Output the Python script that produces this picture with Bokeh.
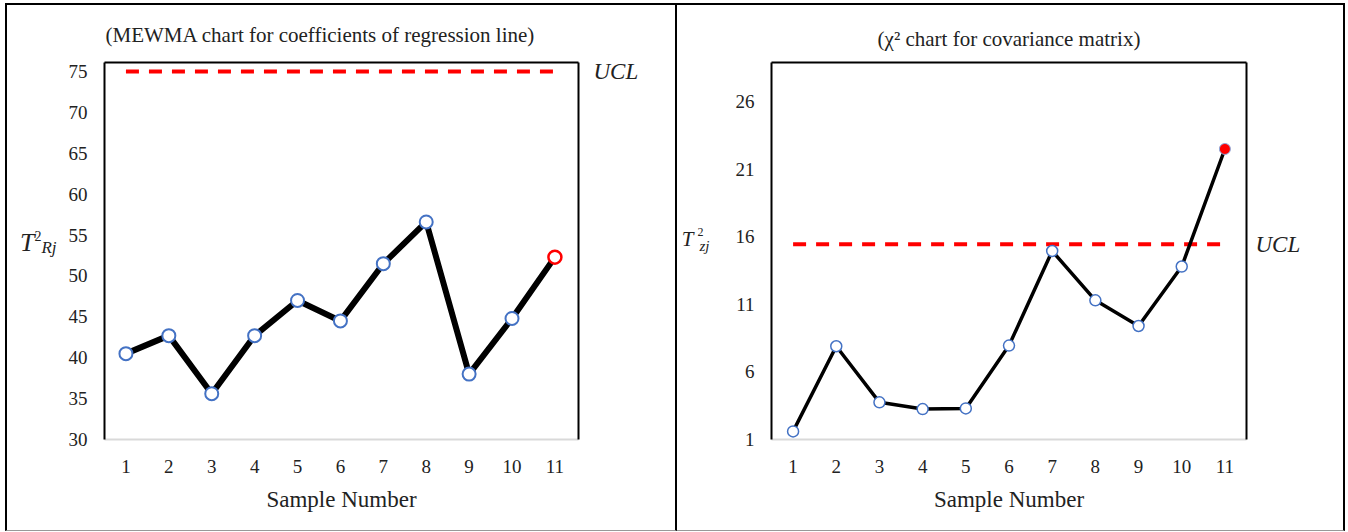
from bokeh.plotting import figure
from bokeh.layouts import row
from bokeh.models import LinearAxis, FixedTicker, Range1d, Title
from bokeh.embed import file_html
from bokeh.resources import INLINE

# ---------------- data ----------------
samples = [1, 2, 3, 4, 5, 6, 7, 8, 9, 10, 11]
mewma_t2 = [40.5, 42.7, 35.6, 42.7, 47.0, 44.5, 51.5, 56.6, 38.0, 44.8, 52.3]
mewma_ucl = 75.0
mewma_yticks = [30, 35, 40, 45, 50, 55, 60, 65, 70, 75]

chi2_t2 = [1.6, 7.9, 3.75, 3.25, 3.3, 7.95, 14.95, 11.3, 9.4, 13.8, 22.5]
chi2_ucl = 15.45
chi2_yticks = [1, 6, 11, 16, 21, 26]

left_title = "(MEWMA  chart for coefficients of regression line)"
right_title = "(\u03c7\u00b2 chart for covariance matrix)"
x_title = "Sample Number"
ucl_text = "UCL"

FONT = "Liberation Serif"
BLUE = "#4472C4"
RED = "#FF0000"
TXT = "#222222"
FRAME_BOTTOM = 439
FRAME_H = 377


def bare_axis(ticks=(), overrides=None, size="0px", style="normal", standoff=0,
              line_color=None, line_width=2):
    a = LinearAxis(ticker=FixedTicker(ticks=list(ticks)))
    a.axis_line_color = line_color
    a.axis_line_width = line_width
    a.major_tick_line_color = None
    a.minor_tick_line_color = None
    a.major_tick_in = 0
    a.major_tick_out = 0
    a.major_label_text_font = FONT
    a.major_label_text_font_size = size
    a.major_label_text_font_style = style
    a.major_label_text_color = TXT
    a.major_label_standoff = standoff
    if overrides:
        a.major_label_overrides = overrides
    return a


def make_panel(width, height, mb_left, mb_right, xr, yr, yticks, vals, ucl,
               line_w, marker_size, marker_lw, last_fill, last_line, last_lw,
               ucl_standoff, border_styles):
    p = figure(width=width, height=height, output_backend="svg",
               toolbar_location=None, x_range=Range1d(*xr), y_range=Range1d(*yr),
               min_border_left=mb_left, min_border_right=mb_right,
               min_border_top=57, min_border_bottom=94,
               x_axis_type=None, y_axis_type=None, styles=border_styles)
    p.outline_line_color = None
    p.xgrid.visible = False
    p.ygrid.visible = False

    # bottom axis
    xa = bare_axis(samples, size="19px", standoff=20, line_color="#D9D9D9")
    xa.axis_label = x_title
    xa.axis_label_text_font = FONT
    xa.axis_label_text_font_style = "normal"
    xa.axis_label_text_font_size = "23px"
    xa.axis_label_text_color = TXT
    xa.axis_label_standoff = 11
    p.add_layout(xa, "below")

    # left axis
    ya = bare_axis(yticks, size="19px", standoff=17, line_color="black")
    p.add_layout(ya, "left")

    # frame top line
    p.add_layout(bare_axis(line_color="black"), "above")
    # frame right line with the UCL label
    p.add_layout(bare_axis([ucl], {ucl: ucl_text}, size="23px", style="italic",
                           standoff=ucl_standoff, line_color="black"), "right")

    # UCL
    p.line([samples[0], samples[-1]], [ucl, ucl], line_color=RED, line_width=4,
           line_dash="13 10")
    # series
    p.line(samples, vals, line_color="black", line_width=line_w, line_join="round")
    p.scatter(samples[:-1], vals[:-1], size=marker_size, marker="circle",
              fill_color="white", line_color=BLUE, line_width=marker_lw)
    p.scatter(samples[-1:], vals[-1:], size=marker_size, marker="circle",
              fill_color=last_fill, line_color=last_line, line_width=last_lw)
    return p


def ydata(yr, py):
    return yr[0] + (FRAME_BOTTOM - py) / FRAME_H * (yr[1] - yr[0])


def add_ylabel(p, yr, parts):
    # parts: (text, page_y_center, size, style, standoff), from the frame outwards
    for text, py, size, style, standoff in parts:
        yv = round(ydata(yr, py), 4)
        p.add_layout(bare_axis([yv], {yv: text}, size=size, style=style,
                               standoff=standoff), "left")


def add_title(p, text, align, offset, standoff):
    t = Title(text=text, align=align, offset=offset, standoff=standoff,
              text_font=FONT, text_font_size="21px", text_font_style="normal",
              text_color=TXT)
    p.add_layout(t, "above")


# ---------- left panel ----------
L_xr, L_yr = (0.5, 11.55), (30, 76.1)
p1 = make_panel(672, 528, 97, 101, L_xr, L_yr, mewma_yticks, mewma_t2, mewma_ucl,
                6, 13, 2, "white", RED, 2.5, 15,
                {"border-top": "2px solid #000", "border-left": "2px solid #000",
                 "border-right": "2px solid #000", "border-bottom": "1px solid #999",
                 "margin-left": "5px", "margin-top": "3px"})
add_title(p1, left_title, "left", 1, 31)
add_ylabel(p1, L_yr, [("Rj", 247, "17px", "italic", 9),
                      ("2", 236, "14px", "normal", -3),
                      ("T", 242, "26px", "italic", -3)])

# ---------- right panel ----------
R_xr, R_yr = (0.5, 11.5), (1, 28.9)
p2 = make_panel(668, 528, 94, 99, R_xr, R_yr, chi2_yticks, chi2_t2, chi2_ucl,
                3.5, 11, 1.5, RED, "#8EA9DB", 1, 9,
                {"border-top": "2px solid #000", "border-right": "2px solid #000",
                 "border-bottom": "1px solid #999", "margin-top": "3px"})
add_title(p2, right_title, "center", 0, 24)
add_ylabel(p2, R_yr, [("zj", 245, "15px", "italic", 23),
                      ("2", 231.5, "12px", "normal", -7),
                      ("T", 238.5, "21px", "italic", 1)])

layout = row(p1, p2)
open("out.html", "w").write(file_html(layout, INLINE))
